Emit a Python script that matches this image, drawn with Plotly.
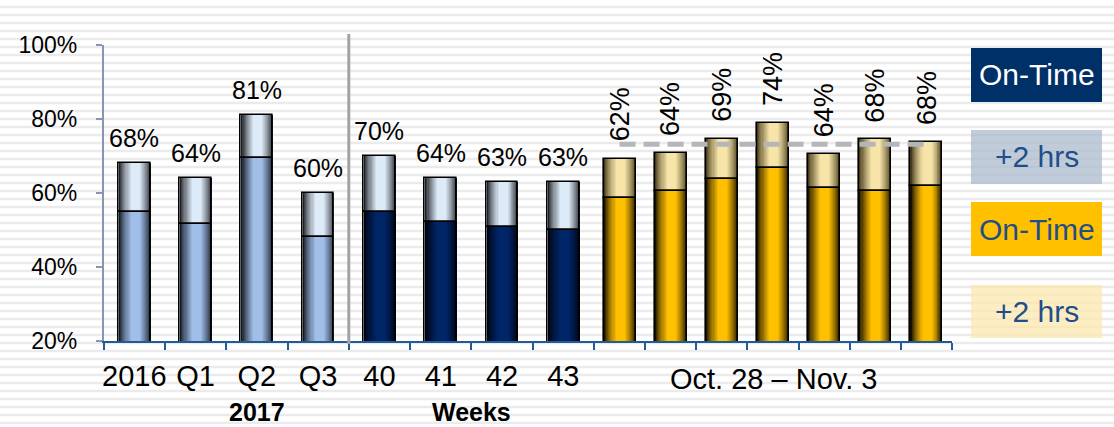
import plotly.graph_objects as go

W, H = 1114, 427
FONT = "Liberation Sans, Arial, sans-serif"

# ---- data -------------------------------------------------------------
# Calendar periods (2016, 2017 quarters) and weeks 40-43
left_cats = ["2016", "Q1", "Q2", "Q3", "40", "41", "42", "43"]
left_on_time = [55.0, 51.6, 69.5, 48.0, 54.8, 52.2, 50.8, 50.0]
left_within_2h = [68, 64, 81, 60, 70, 64, 63, 63]      # on-time + up to 2 hrs late

# Daily values, Oct. 28 - Nov. 3
right_cats = ["Oct. 28", "Oct. 29", "Oct. 30", "Oct. 31", "Nov. 1", "Nov. 2", "Nov. 3"]
right_on_time = [58.6, 60.6, 63.8, 66.8, 61.4, 60.5, 61.9]
right_within_2h = [69.3, 70.7, 74.6, 78.9, 70.5, 74.5, 73.9]
right_labels = [62, 64, 69, 74, 64, 68, 68]
target = 73.2

y_ticks = [20, 40, 60, 80, 100]


# ---- helpers ----------------------------------------------------------
def px_x(px):
    return px / W


def px_y(py):
    return 1 - py / H


def mix(c1, c2, t):
    return "rgb(%d,%d,%d)" % tuple(round(a + (b - a) * t) for a, b in zip(c1, c2))


N_LAYERS = 12


def strips(width, peak=0.52, plateau=0.28):
    """Concentric strips (offset, width, t) from the bar edge to its bright core."""
    out = []
    l0, r0 = -width / 2, width / 2
    pl = -width / 2 + width * (peak - plateau / 2)
    pr = -width / 2 + width * (peak + plateau / 2)
    for k in range(N_LAYERS):
        f = k / (N_LAYERS - 1)
        left = l0 + (pl - l0) * f
        right = r0 + (pr - r0) * f
        out.append((left, right - left, f ** 0.75))
    return out


# colour ramps: (edge, core)
LIGHT_BLUE = ((18, 24, 34), (160, 190, 231))
PALE_BLUE = ((28, 30, 36), (221, 234, 247))
NAVY = ((0, 2, 12), (0, 38, 104))
GOLD = ((24, 16, 0), (255, 192, 0))
PALE_GOLD = ((70, 58, 24), (246, 228, 168))

fig = go.Figure()


def add_gradient_bars(cats, bottom, total, bottom_ramps, top_ramp, xaxis, width):
    top_h = [t - b for t, b in zip(total, bottom)]
    for off, w, t in strips(width):
        fig.add_trace(go.Bar(
            x=cats, y=bottom, offset=off, width=w, xaxis=xaxis,
            marker=dict(color=[mix(r[0], r[1], t) for r in bottom_ramps], line=dict(width=0)),
            hoverinfo="skip", showlegend=False))
        fig.add_trace(go.Bar(
            x=cats, y=top_h, base=bottom, offset=off, width=w, xaxis=xaxis,
            marker=dict(color=mix(top_ramp[0], top_ramp[1], t), line=dict(width=0)),
            hoverinfo="skip", showlegend=False))
    # black outlines of both segments
    for yy, bb in ((bottom, None), (top_h, bottom)):
        fig.add_trace(go.Bar(
            x=cats, y=yy, base=bb, width=width, xaxis=xaxis,
            marker=dict(color="rgba(0,0,0,0)", line=dict(color="black", width=1.6)),
            hoverinfo="skip", showlegend=False))


LEFT_W = 0.52
RIGHT_W = 0.626
add_gradient_bars(left_cats, left_on_time, left_within_2h,
                  [LIGHT_BLUE] * 4 + [NAVY] * 4, PALE_BLUE, "x", LEFT_W)
add_gradient_bars(right_cats, right_on_time, right_within_2h,
                  [GOLD] * 7, PALE_GOLD, "x2", RIGHT_W)

# ---- background stripes ----------------------------------------------
shapes = []
for py in range(7, H, 8):
    shapes.append(dict(type="line", xref="paper", yref="paper", x0=0, x1=1,
                       y0=px_y(py), y1=px_y(py), layer="below",
                       line=dict(color="#EBEBEB", width=2.5)))

# separator between the calendar periods and the weeks
shapes.append(dict(type="line", xref="x", yref="paper", x0=3.5, x1=3.5,
                   y0=px_y(344), y1=px_y(34), line=dict(color="#A3A3A3", width=3)))

# dashed target line across the daily bars (first to last day)
shapes.append(dict(type="line", xref="x2", yref="y", x0=0, x1=len(right_cats) - 1,
                   y0=target, y1=target, layer="above",
                   line=dict(color="#B4B6BA", width=5, dash="16px,8px")))

# ---- key boxes --------------------------------------------------------
annotations = []
key = [
    ("On-Time", "#003068", "white", 48, 102),
    ("+2 hrs", "rgba(166,182,202,0.7)", "#1F4E8A", 130, 184),
    ("On-Time", "#FFC000", "#1F4E8A", 202, 256),
    ("+2 hrs", "rgba(252,229,168,0.7)", "#1F4E8A", 285, 338),
]
for text, fill, fc, top, bot in key:
    shapes.append(dict(type="rect", xref="paper", yref="paper",
                       x0=px_x(971), x1=px_x(1102), y0=px_y(bot), y1=px_y(top),
                       fillcolor=fill, line=dict(width=0), layer="above"))
    annotations.append(dict(xref="paper", yref="paper", x=px_x(1036.5), y=px_y((top + bot) / 2),
                            text=text, showarrow=False, xanchor="center", yanchor="middle",
                            font=dict(family=FONT, size=30, color=fc)))

# ---- value labels (positions by category index) --------------------------
for i, tot in enumerate(left_within_2h):
    annotations.append(dict(x=i, y=tot, xref="x", yref="y", text=f"{tot}%", showarrow=False,
                            xanchor="center", yanchor="bottom", yshift=9,
                            font=dict(family=FONT, size=25, color="black")))
for i, (tot, lab) in enumerate(zip(right_within_2h, right_labels)):
    annotations.append(dict(x=i, y=tot, xref="x2", yref="y", text=f"{lab}%", showarrow=False,
                            textangle=-90, xanchor="center", yanchor="bottom", yshift=15,
                            font=dict(family=FONT, size=27, color="black")))

# ---- group captions ------------------------------------------------------
annotations.append(dict(xref="paper", yref="paper", x=px_x(773), y=px_y(379),
                        text="Oct. 28 \u2013 Nov. 3", showarrow=False,
                        xanchor="center", yanchor="middle",
                        font=dict(family=FONT, size=29, color="black")))
annotations.append(dict(xref="x", yref="paper", x=2, y=px_y(412), text="<b>2017</b>",
                        showarrow=False, xanchor="center", yanchor="middle",
                        font=dict(family=FONT, size=25, color="black")))
annotations.append(dict(xref="x", yref="paper", x=5.5, y=px_y(412), text="<b>Weeks</b>",
                        showarrow=False, xanchor="center", yanchor="middle",
                        font=dict(family=FONT, size=25, color="black")))

AXIS_BLUE = "#1F5C99"
x_common = dict(type="category", showgrid=False, zeroline=False, showline=True,
                linecolor=AXIS_BLUE, linewidth=2, ticks="outside", tickson="boundaries",
                ticklen=7, tickwidth=1.5, tickcolor=AXIS_BLUE, tickangle=0,
                automargin=False, fixedrange=True, anchor="y")

fig.update_layout(
    width=W, height=H, template="none",
    margin=dict(l=0, r=0, t=0, b=0, pad=0),
    paper_bgcolor="white", plot_bgcolor="rgba(0,0,0,0)",
    barmode="overlay", bargap=0, showlegend=False,
    font=dict(family=FONT, color="black"),
    xaxis=dict(x_common, domain=[px_x(103.6), px_x(594)], range=[-0.5, 7.5],
               categoryorder="array", categoryarray=left_cats,
               tickfont=dict(family=FONT, size=29, color="black"), ticklabelstandoff=8),
    xaxis2=dict(x_common, domain=[px_x(594), px_x(952)], range=[-0.5, 6.5],
                categoryorder="array", categoryarray=right_cats, showticklabels=False),
    yaxis=dict(domain=[px_y(341), px_y(45)], range=[20, 100], tickvals=y_ticks,
               ticktext=[f"{v}%" for v in y_ticks], showgrid=False, zeroline=False,
               showline=True, linecolor="#8A94B4", linewidth=1.5, ticks="outside",
               ticklen=6, tickcolor="#8A94B4", tickwidth=1.5, ticklabelstandoff=14,
               tickfont=dict(family=FONT, size=23, color="black"),
               automargin=False, fixedrange=True),
    shapes=shapes, annotations=annotations,
)

fig.write_html("out.html")
